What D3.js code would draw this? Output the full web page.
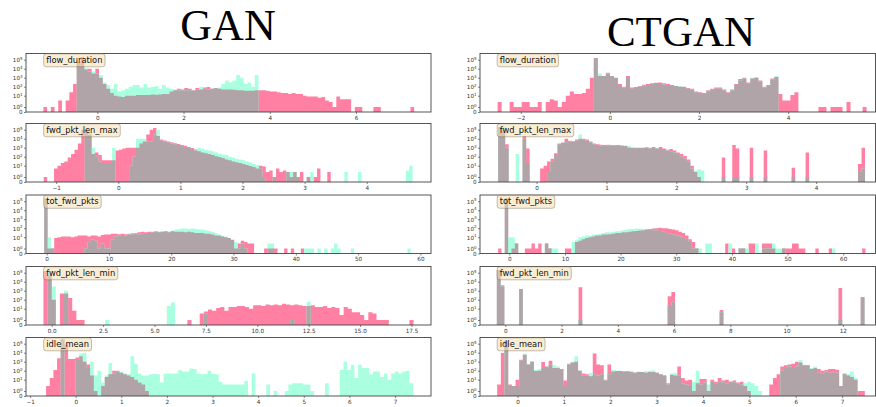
<!DOCTYPE html>
<html>
<head>
<meta charset="utf-8">
<script src="https://cdn.jsdelivr.net/npm/d3@7"></script>
<style>
  body { margin: 0; background: #fff; }
  svg { display: block; font-family: "DejaVu Sans", sans-serif; }
</style>
</head>
<body>
<svg id="chart" width="876" height="407"></svg>
<script>
const modelNames = ['GAN', 'CTGAN'];
const featureNames = ['flow_duration', 'fwd_pkt_len_max', 'tot_fwd_pkts', 'fwd_pkt_len_min', 'idle_mean'];

// histogram bin edges (first edge, width) per panel: GAN rows then CTGAN rows
const binStarts = [-1.25, -1.2, -0.4, -0.4, -0.65, -2.52, -0.55, -2, -0.3, -0.44];
const binWidths = [0.086, 0.055, 0.535, 0.2, 0.0805, 0.09, 0.05, 0.6, 0.132, 0.0793];
const xDomains = [
  [-1.654, 7.74], [-1.486, 5.035], [-3.32, 61.7], [-1.25, 18.45], [-1.09, 7.79],
  [-2.915, 5.96], [-0.81, 4.85], [-5.26, 65.8], [-0.9, 13.16], [-0.81, 7.72]
];
const xTickValues = [
  [0, 2, 4, 6], [-1, 0, 1, 2, 3, 4], [0, 10, 20, 30, 40, 50, 60],
  [0, 2.5, 5, 7.5, 10, 12.5, 15, 17.5], [-1, 0, 1, 2, 3, 4, 5, 6, 7],
  [-2, 0, 2, 4], [0, 1, 2, 3, 4], [0, 10, 20, 30, 40, 50, 60],
  [0, 2, 4, 6, 8, 10, 12], [0, 1, 2, 3, 4, 5, 6, 7]
];
const yTickValues = [0, 1, 10, 100, 1000, 10000, 100000];

// counts per bin: pink = synthetic, aqua = real
const ganFlowSynth = [
  1,0,1,0,3,0,3,25,200,5e4,
  2e5,8e3,1e4,3e3,1e4,1e3,200,60,20,10,
  8,7,10,10,10,12,12,12,12,14,
  13,14,15,15,30,40,60,50,70,60,
  40,70,50,80,90,60,70,60,50,50,
  50,45,40,40,35,35,35,40,40,40,
  35,30,30,25,20,20,15,20,15,15,
  10,8,8,8,6,7,3,2,1,8,
  4,4,4,0,1,1,0,0,0,1,
  1,0,0,0,0,0,0,0,0,1
];
const ganFlowReal = [
  0,0,0,0,0,0,0,0,0,5e4,
  2e4,1.2e4,5e3,5e3,3e3,2e3,300,150,60,200,
  30,40,60,100,150,150,80,200,80,100,
  120,60,150,80,60,50,40,40,40,40,
  35,50,100,60,50,60,70,80,200,500,
  300,500,2000,1000,200,300,100,2000,0,0,
  0,0,0,0,0,0,0,0,0,0,
  0,0,0,0,0,0,0,0,0,0,
  0,0,0,0,0,0,0,0,0,0,
  0,0,0,0,0,0,0,0,0,0
];
const ganFwdMaxSynth = [
  1,0,0,5,10,20,30,80,200,600,
  3000,1e5,1e5,3e4,200,300,150,40,40,40,
  40,500,600,800,1000,1000,1000,1000,3000,5000,
  3e4,1e5,1.5e5,2e4,8000,6500,5000,4000,3200,2600,
  2000,1600,1200,900,650,400,300,250,200,150,
  110,90,70,50,40,30,25,20,15,12,
  9,7,5,10,8,2,3,1,5,2,
  3,2,1,2,1,2,0,1,0,1,
  5,0,0,2,0,0,0,0,0,0,
  0,0,0,0,0,0,0,0,0,0,
  0,0,0,0,0,0,0,0
];
const ganFwdMaxReal = [
  0,0,0,0,0,0,0,0,0,0,
  0,0,1e5,5e4,1000,100,30,20,20,20,
  1000,0,0,0,0,10,100,1e4,1e4,1e4,
  5000,5000,3e4,1e5,6000,5000,4000,3000,2500,2000,
  1500,1200,900,700,500,1000,750,600,500,400,
  300,220,180,150,100,80,60,50,40,30,
  25,15,12,5,1,0,0,1,0,0,
  0,2,2,2,1,0,0,1,2,0,
  0,0,0,0,0,0,0,0,2,0,
  0,0,2,0,0,0,0,0,0,0,
  0,0,0,0,0,0,3,10
];
const ganTotFwdSynth = [
  2e5,1,1,8,10,12,12,12,10,12,
  15,15,15,12,15,15,12,18,20,20,
  25,25,22,25,22,25,28,28,35,40,
  35,40,40,45,40,40,45,35,45,40,
  40,40,35,40,35,30,30,30,25,25,
  20,15,15,12,10,8,5,1,2,4,
  3,2,2,0,0,0,1,1,1,1,
  0,0,1,0,1,0,0,1,0,0,
  0,0,0,0,0,0,0,0,0,0,
  0,0,0,0,0,0,0,0,0,0,
  0,0,0,0,0,0,0,0,0,0
];
const ganTotFwdReal = [
  2e5,10,1,0,0,0,0,0,0,0,
  0,0,1,3,6,4,1,2,1,1,
  6,12,15,18,15,20,20,25,20,25,
  30,30,35,40,35,45,50,45,55,70,
  80,90,90,80,90,80,70,70,60,50,
  40,30,20,15,12,8,6,3,1,2,
  1,0,0,0,0,0,0,2,2,0,
  0,0,0,0,0,0,0,0,1,1,
  1,0,1,0,1,0,1,2,1,0,
  0,0,1,0,0,0,0,0,0,0,
  0,0,0,0,0,0,0,0,0,1
];
const ganFwdMinSynth = [
  1.5e5,5e4,100,0,500,500,150,6,1,1,
  0,0,0,0,0,0,0,0,0,0,
  0,0,0,0,0,0,0,0,0,0,
  0,0,0,0,0,1,0,0,3,5,
  8,6,12,15,6,15,15,20,20,15,
  10,25,25,20,30,25,30,25,35,30,
  25,30,25,20,20,25,15,15,20,12,
  15,12,2,15,10,4,4,2,1,4,
  3,1,1,1,0,0,0,0,0,1,
  0,0
];
const ganFwdMinReal = [
  0,1e5,3000,0,0,1000,0,0,0,0,
  0,0,0,0,0,1,0,0,0,0,
  0,0,0,0,0,0,0,0,0,0,
  20,50,0,0,0,0,0,0,0,3,
  0,0,0,0,0,0,0,0,0,0,
  0,0,0,0,0,0,0,0,0,0,
  1,0,0,0,60,0,0,0,0,0,
  0,0,0,0,0,0,0,0,0,0,
  0,0,0,0,0,0,0,0,0,0,
  0,0
];
const ganIdleSynth = [
  2,15,120,2500,3e5,8e4,2000,2000,3000,4000,
  1000,500,30,1,0,2,20,40,100,100,
  60,40,30,20,10,5,3,1,0,0,
  0,0,0,0,0,0,0,0,0,0,
  0,0,0,0,0,0,0,0,0,0,
  0,0,0,0,0,0,0,0,0,0,
  0,0,0,0,0,0,0,0,0,0,
  0,0,0,0,0,0,0,0,0,0,
  0,0,0,0,0,0,0,0,0,0,
  0,0,0,0,0,0,0,0,0,0
];
const ganIdleReal = [
  0,0,0,0,3e5,0,0,0,1500,8000,
  1e4,200,1000,30,100,5,30,700,50,80,
  80,50,40,4000,600,50,30,30,40,45,
  40,5,45,50,45,50,120,80,80,180,
  150,50,40,45,100,45,40,6,3,3,
  3,3,3,3,7,0,50,0,0,0,
  3,0,1,0,0,1,3,4,4,4,
  3,3,1,0,0,0,4,0,0,0,
  120,1000,120,450,15,500,200,200,40,80,
  80,20,50,10,50,80,50,80,100,4
];
const ctFlowSynth = [
  2,0,0,2,1,1,2,2,1,1,
  2,0,2,4,3,1,2,10,30,15,
  15,20,60,1000,1.5e5,1500,1500,3500,1500,1000,
  200,100,1500,80,90,120,170,200,250,280,
  300,250,200,150,120,100,100,70,60,30,
  25,20,40,60,80,80,50,25,50,200,
  700,1000,300,800,1000,500,100,150,800,1200,
  15,3,3,12,25,0,0,0,0,0,
  1,1,0,1,1,1,0,2,0,0,
  0,1
];
const ctFlowReal = [
  0,0,0,0,0,0,0,0,0,0,
  0,0,0,0,0,0,0,0,0,0,
  0,0,0,0,1.5e5,3000,1500,3000,1500,900,
  150,80,1200,60,70,100,130,150,200,200,
  200,180,150,120,130,120,90,60,50,25,
  20,15,30,45,60,60,40,20,40,150,
  500,800,250,1000,1200,400,80,120,600,1500,
  0,0,0,0,0,0,0,0,0,0,
  0,0,0,0,0,0,0,0,0,0,
  0,0
];
const ctFwdMaxSynth = [
  2e5,1e5,2500,0,0,0,0,2e4,800,0,
  0,0,5,10,30,60,250,3000,3500,1e4,
  6000,5000,8000,1e4,1e4,8000,5000,3000,2500,2200,
  2000,2200,2000,2000,2000,1800,1500,1000,900,900,
  1000,1000,1100,1000,1200,800,1200,800,600,700,
  500,300,200,120,50,10,2,1,0,0,
  0,0,0,0,80,0,0,2000,800,0,
  0,0,1000,0,0,0,500,0,0,0,
  0,0,0,0,6,0,0,0,300,0,
  0,0,0,0,0,0,0,0,0,0,
  0,0,0,15,1000
];
const ctFwdMaxReal = [
  2e5,2e5,1000,0,0,200,0,1e4,20,0,
  0,0,0,0,2,30,150,2500,3500,4000,
  5000,5000,6000,3e4,8000,6000,4000,2500,2000,1800,
  2000,1800,1700,1800,1500,1500,1800,1500,1300,1100,
  900,900,900,800,900,800,700,700,500,400,
  300,200,100,60,30,5,3,4,3,0,
  0,0,0,0,1,0,0,1,1,0,
  0,0,1,0,0,0,1,0,0,0,
  0,0,0,0,1,0,0,0,1,0,
  0,0,0,0,0,0,0,0,0,0,
  0,0,0,2,5
];
const ctTotFwdSynth = [
  1,0,2e5,0,1,2,0,0,1,1,
  2,1,2,0,2,1,0,0,0,0,
  1,1,0,3,4,6,8,10,12,15,
  15,20,20,22,25,30,30,35,35,40,
  45,50,55,60,70,80,90,100,110,100,
  100,80,70,60,40,30,15,6,3,1,
  0,0,0,0,0,0,0,0,2,0,
  1,0,1,1,0,2,2,0,0,2,
  2,2,1,0,0,1,1,1,2,2,
  1,1,0,0,0,1,0,0,0,1,
  0,0,0,0,0,0,0,0,0,1
];
const ctTotFwdReal = [
  0,0,2e5,10,10,2,0,0,0,0,
  0,0,0,0,2,1,1,1,0,0,
  0,0,3,5,10,12,15,15,20,20,
  25,30,35,35,40,45,50,60,70,80,
  80,90,90,80,70,70,60,60,50,40,
  30,25,20,15,12,8,5,3,1,1,
  1,0,2,2,0,0,0,0,0,2,
  0,0,1,1,1,0,0,2,0,1,
  1,1,2,1,1,1,0,0,0,0,
  0,0,0,0,0,0,0,0,0,0,
  1,0,0,0,0,0,0,0,0,0
];
const ctFwdMinSynth = [
  2e5,4000,0,0,0,0,1500,0,0,0,
  0,0,0,0,0,0,0,0,0,0,
  0,0,2500,0,0,0,0,0,0,0,
  0,0,0,0,0,0,0,0,0,0,
  0,0,0,0,0,0,250,700,0,0,
  0,0,0,0,0,0,0,0,0,0,
  7,0,0,0,0,0,0,0,0,0,
  0,0,0,0,0,0,0,0,0,0,
  0,0,0,0,0,0,0,0,0,0,
  0,0,2000,0,0,0,0,0,200,0
];
const ctFwdMinReal = [
  2e5,3000,0,0,0,0,1500,0,0,0,
  0,0,0,0,0,0,0,0,0,0,
  0,0,1,0,0,0,0,0,0,0,
  0,0,0,0,0,0,0,0,0,0,
  0,0,0,0,0,0,20,60,0,0,
  0,0,0,0,0,0,0,0,0,0,
  4,0,0,0,0,0,0,0,0,0,
  0,0,0,0,0,0,0,0,0,0,
  0,0,0,0,0,0,0,0,0,0,
  0,0,1,0,0,0,0,0,150,0
];
const ctIdleSynth = [
  3,9000,2e5,3,2,10,1600,6000,500,1000,
  90,100,900,300,1300,200,200,150,8,600,
  800,1000,100,50,40,25,8000,500,400,10,
  500,80,90,90,80,90,70,60,70,70,
  60,70,70,60,40,30,4,35,30,300,
  15,8,10,1,4,12,12,1,10,6,
  15,8,10,6,8,5,6,2,1,0,
  0,0,0,0,3,15,40,300,400,500,
  600,1000,800,400,400,150,200,150,100,120,
  150,150,130,2,50,30,20,10,1,1
];
const ctIdleReal = [
  0,0,2e5,2,2,2,1300,8000,500,1100,
  120,150,200,200,500,400,300,150,2,500,
  1000,4000,100,30,30,60,40,30,40,8,
  40,120,100,100,90,80,100,60,80,70,
  90,100,110,60,40,30,3,50,55,30,
  4,3,2,6,100,3,5,3,6,4,
  6,5,4,6,5,4,3,4,6,4,
  2,1,0,0,0,0,0,100,200,300,
  200,300,1500,500,400,200,300,60,50,80,
  60,60,60,2,40,40,80,15,0,0
];

const synthSeries = [ganFlowSynth, ganFwdMaxSynth, ganTotFwdSynth, ganFwdMinSynth, ganIdleSynth,
  ctFlowSynth, ctFwdMaxSynth, ctTotFwdSynth, ctFwdMinSynth, ctIdleSynth];
const realSeries = [ganFlowReal, ganFwdMaxReal, ganTotFwdReal, ganFwdMinReal, ganIdleReal,
  ctFlowReal, ctFwdMaxReal, ctTotFwdReal, ctFwdMinReal, ctIdleReal];

const pinkColor = '#ff80a3';
const aquaColor = '#abffe1';
const overlapColor = '#b0a4a8';

// matplotlib symlog, linthresh 2, linscale 1
const LINTHRESH = 2;
const LINSCALE_ADJ = 1 / (1 - 1 / 10);
function symlog(v) {
  return v <= LINTHRESH ? v * LINSCALE_ADJ : LINTHRESH * (LINSCALE_ADJ + Math.log10(v / LINTHRESH));
}

const svg = d3.select('#chart');
const colX = [[26, 431], [480, 875.5]];
const rowTops = [53.5, 123.5, 195, 266.5, 337.5];
const panelH = 58.5;

svg.append('text').attr('x', 228).attr('y', 40).attr('text-anchor', 'middle')
  .style('font-family', '"Liberation Serif", "Times New Roman", serif').style('font-size', '44px')
  .text(modelNames[0]);
svg.append('text').attr('x', 681).attr('y', 46).attr('text-anchor', 'middle')
  .style('font-family', '"Liberation Serif", "Times New Roman", serif').style('font-size', '43px')
  .text(modelNames[1]);

for (let p = 0; p < 10; p++) {
  const col = Math.floor(p / 5);
  const row = p % 5;
  const left = colX[col][0], right = colX[col][1];
  const top = rowTops[row], bottom = top + panelH;

  const x = d3.scaleLinear().domain(xDomains[p]).range([left, right]);
  const yT = d3.scaleLinear().domain([0, 13]).range([bottom, top]);
  const y = v => yT(symlog(v));

  const g = svg.append('g');
  const clipId = `clip-${p}`;
  g.append('clipPath').attr('id', clipId)
    .append('rect').attr('x', left).attr('y', top).attr('width', right - left).attr('height', panelH);

  const synth = synthSeries[p], real = realSeries[p];
  const n = synth.length;
  const edge = i => binStarts[p] + i * binWidths[p];
  const overlap = synth.map((s, i) => Math.min(s, real[i]));

  const stepData = vals => vals.map((v, i) => [edge(i), v]).concat([[edge(n), vals[n - 1]]]);
  const area = d3.area()
    .x(d => x(d[0]))
    .y0(bottom)
    .y1(d => y(d[1]))
    .curve(d3.curveStepAfter);

  const bars = g.append('g').attr('clip-path', `url(#${clipId})`);
  bars.append('path').attr('d', area(stepData(synth))).attr('fill', pinkColor);
  bars.append('path').attr('d', area(stepData(real))).attr('fill', aquaColor);
  bars.append('path').attr('d', area(stepData(overlap))).attr('fill', overlapColor);

  // x axis
  const fmt = p === 3 ? d3.format('.1f') : d3.format('d');
  const xAxis = g.append('g')
    .attr('transform', `translate(0,${bottom})`)
    .call(d3.axisBottom(x).tickValues(xTickValues[p]).tickSize(2).tickPadding(1.5).tickFormat(fmt));
  xAxis.select('.domain').remove();
  xAxis.selectAll('line').attr('stroke', '#333').attr('stroke-width', 0.6);
  xAxis.selectAll('text').attr('fill', '#333').style('font-size', '5.7px')
    .style('font-family', '"DejaVu Sans", sans-serif');

  // y axis (symlog)
  const yAxis = g.append('g')
    .attr('transform', `translate(${left},0)`)
    .call(d3.axisLeft(yT).tickValues(yTickValues.map(symlog)).tickSize(2).tickPadding(1.5));
  yAxis.select('.domain').remove();
  yAxis.selectAll('line').attr('stroke', '#333').attr('stroke-width', 0.6);
  yAxis.selectAll('text')
    .attr('fill', '#333').style('font-size', '5.6px').style('font-family', '"DejaVu Sans", sans-serif')
    .each(function (d, i) {
      const t = d3.select(this);
      t.text(null);
      if (yTickValues[i] === 0) {
        t.text('0');
      } else {
        t.append('tspan').text('10');
        t.append('tspan').attr('dy', -2.3).style('font-size', '4px').text(String(Math.round(Math.log10(yTickValues[i]))));
      }
    });

  // frame
  g.append('rect')
    .attr('x', left).attr('y', top).attr('width', right - left).attr('height', panelH)
    .attr('fill', 'none').attr('stroke', '#444').attr('stroke-width', 0.9);

  // feature label box
  const lx = left + 0.05 * (right - left);
  const label = g.append('g');
  const box = label.append('rect');
  const txt = label.append('text')
    .attr('x', lx).attr('y', top + 9.3)
    .style('font-size', '8.3px').attr('fill', '#111')
    .text(featureNames[row]);
  const bb = txt.node().getBBox();
  box.attr('x', lx - 2.6).attr('y', top + 0.3)
    .attr('width', bb.width + 5.2).attr('height', 13)
    .attr('rx', 2.5).attr('ry', 2.5)
    .attr('fill', 'rgba(245,222,179,0.55)')
    .attr('stroke', 'rgba(90,80,60,0.45)').attr('stroke-width', 0.8);
}
</script>
</body>
</html>
